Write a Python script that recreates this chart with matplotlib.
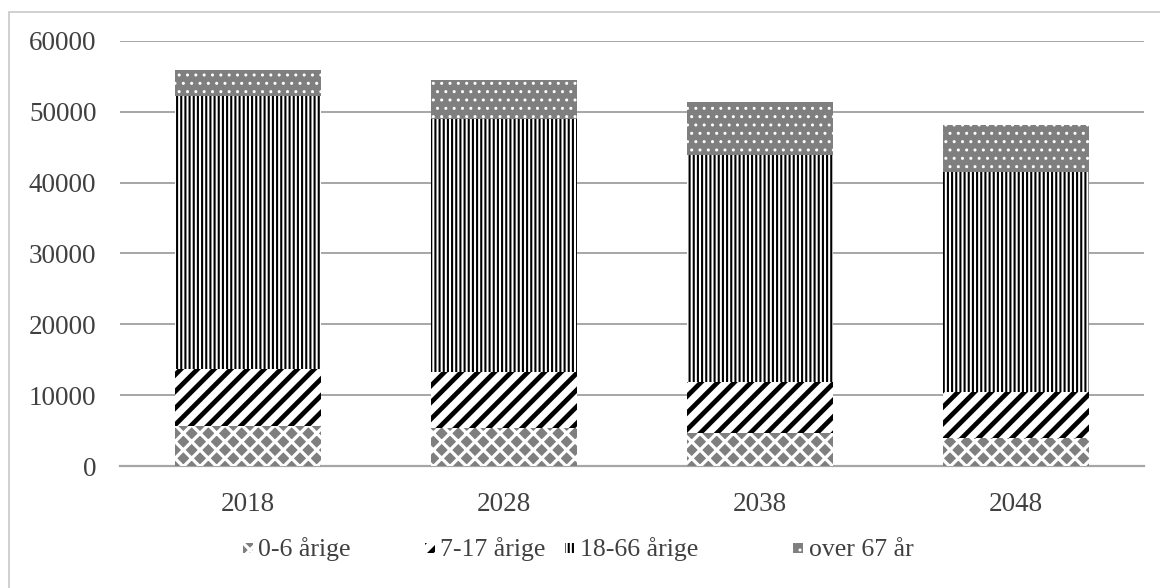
import numpy as np
import matplotlib
matplotlib.use("Agg")
import matplotlib.pyplot as plt
from matplotlib.patches import Rectangle

years = ["2018", "2028", "2038", "2048"]
age_0_6 = [5600, 5300, 4600, 4000]
age_7_17 = [8100, 8000, 7300, 6500]
age_18_66 = [38500, 35700, 32000, 31000]
age_67 = [3700, 5500, 7500, 6700]

labels = ["0-6 årige", "7-17 årige", "18-66 årige", "over 67 år"]
GRAY = "#7f7f7f"
TEXT = "#404040"
W, H = 1160, 588

plt.rcParams["font.family"] = ["Liberation Serif", "DejaVu Serif"]

fig = plt.figure(figsize=(W / 100, H / 100), dpi=100)
ax = fig.add_axes([120 / W, 1 - 466 / H, 1024 / W, 425 / H])

# outer chart border (only left and top edge are inside the picture)
fig.patches.append(Rectangle((9 / W, -0.1), 1.2, 1 - 12 / H + 0.1,
                             transform=fig.transFigure, fill=False,
                             edgecolor="#c8c8c8", linewidth=1.2, zorder=0))

x = np.arange(len(years))
w = 0.57

# (values, facecolor, hatch colour, hatch, hatch linewidth)
styles = [
    (age_0_6, GRAY, "white", "xx", 2.3),
    (age_7_17, "white", "black", "//", 3.4),
    (age_18_66, "white", "black", "||||", 1.5),
    (age_67, GRAY, "white", "..", 1.0),
]


def hatched(patch_fn, hc, hlw):
    with plt.rc_context({"hatch.linewidth": hlw, "hatch.color": hc}):
        out = patch_fn()
    items = out if hasattr(out, "patches") else [out]
    for p in items:
        if hasattr(p, "set_hatch_linewidth"):
            p.set_hatch_linewidth(hlw)
    return out


bottom = np.zeros(len(years))
for vals, fc, hc, hatch, hlw in styles:
    hatched(lambda: ax.bar(x, vals, w, bottom=bottom, color=fc, edgecolor=hc,
                           linewidth=0, hatch=hatch, zorder=3), hc, hlw)
    bottom += np.array(vals)

ax.set_xlim(-0.5, 3.5)
ax.set_ylim(0, 60000)
ax.set_yticks(range(0, 60001, 10000))
ax.set_xticks(x)
ax.set_xticklabels(years)
ax.grid(axis="y", color="#a6a6a6", linewidth=1.4, zorder=0)
ax.set_axisbelow(True)
for s in ["top", "right", "left"]:
    ax.spines[s].set_visible(False)
ax.spines["bottom"].set_color("#a6a6a6")
ax.spines["bottom"].set_linewidth(1.6)
ax.tick_params(axis="both", length=0, labelsize=19.5, colors=TEXT)
ax.tick_params(axis="y", pad=17)
ax.tick_params(axis="x", pad=19)

# legend drawn by hand to follow the spacing of the original
handle_x = [243, 425, 565, 793]
text_x = [258, 440, 580, 809]
for (vals, fc, hc, hatch, hlw), lab, hx, tx in zip(styles, labels, handle_x, text_x):
    def make(hx=hx, fc=fc, hc=hc, hatch=hatch):
        r = Rectangle((hx / W, 1 - 553 / H), 10 / W, 10 / H,
                      transform=fig.transFigure, facecolor=fc, edgecolor=hc,
                      linewidth=0, hatch=hatch)
        fig.patches.append(r)
        return r
    hatched(make, hc, hlw)
    fig.text(tx / W, 1 - 556 / H, lab, fontsize=18.5, color=TEXT,
             ha="left", va="baseline")

fig.savefig("out.png", dpi=100)
